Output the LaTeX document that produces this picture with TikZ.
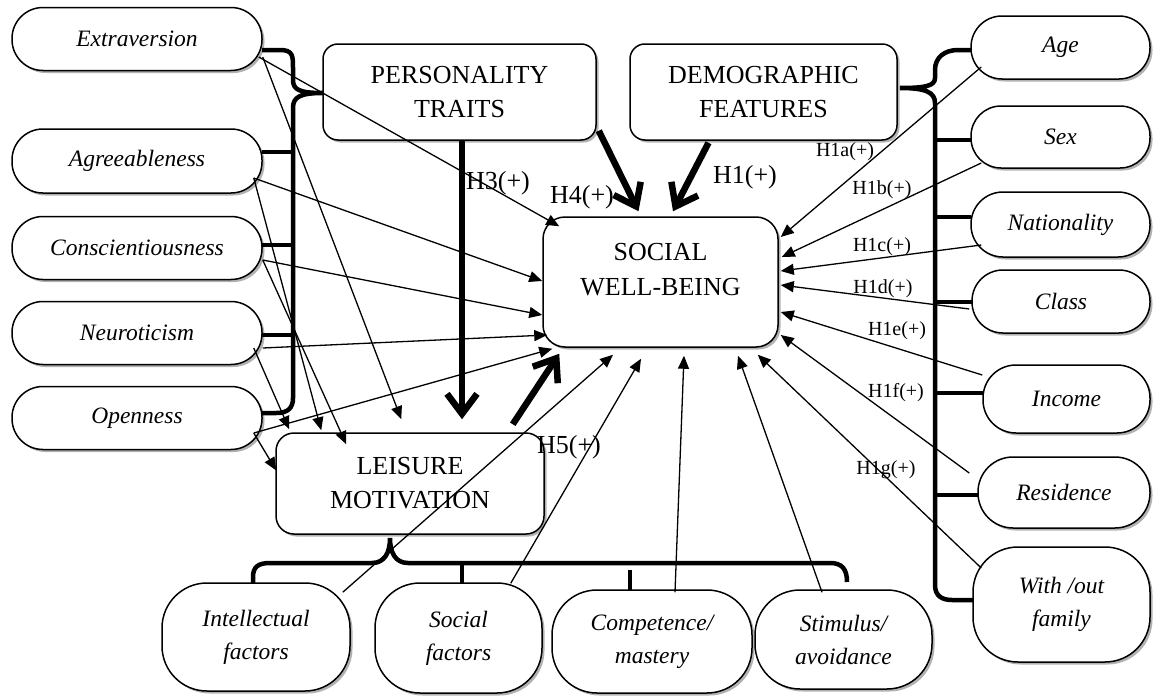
\documentclass[tikz,border=0pt]{standalone}
\usepackage{fontspec}
\setmainfont{Liberation Serif}
\usetikzlibrary{arrows.meta,shadows}
\begin{document}
\begin{tikzpicture}[x=1pt,y=-1pt,
  shad/.style={drop shadow={shadow xshift=2.5pt,shadow yshift=-2.5pt,opacity=0.3,fill=black}},
  box/.style={draw,line width=1.5pt,rounded corners=15pt,fill=white,shad,align=center,inner sep=0pt,font=\fontsize{26}{34}\selectfont},
  pill/.style={draw,line width=1.5pt,fill=white,shad,align=center,inner sep=0pt,font=\fontsize{23.5}{33}\selectfont\itshape},
  arr/.style={line width=1.3pt,-{Triangle[length=13pt,width=11pt]}},
  fat/.style={line width=6.5pt,-{Straight Barb[length=20pt,width=30pt]}},
  brc/.style={line width=4.5pt},
  lab/.style={inner sep=0pt,font=\fontsize{26}{30}\selectfont},
  slab/.style={inner sep=0pt,font=\fontsize{20}{24}\selectfont}]
\useasboundingbox (0,0) rectangle (1154,696);

% main boxes
\node[box,minimum width=273pt,minimum height=96pt] (pt) at (459.5,92) {PERSONALITY\\TRAITS};
\node[box,minimum width=267pt,minimum height=96pt] (df) at (763.5,92) {DEMOGRAPHIC\\FEATURES};
\node[box,minimum width=235pt,minimum height=130pt,rounded corners=22pt] (swb) at (660.5,282) {};
\node[lab,align=center,font=\fontsize{26}{35}\selectfont] (swbt) at (660.5,270) {SOCIAL\\WELL-BEING};
\node[box,minimum width=268pt,minimum height=101pt,rounded corners=18pt] (lm) at (410,483.5) {LEISURE\\MOTIVATION};

% left traits
\node[pill,minimum width=250pt,minimum height=63pt,rounded corners=31pt] (ext) at (137,39) {Extraversion};
\node[pill,minimum width=250pt,minimum height=64pt,rounded corners=31pt] (agr) at (137,161) {Agreeableness};
\node[pill,minimum width=250pt,minimum height=63pt,rounded corners=31pt] (con) at (137,248) {Conscientiousness};
\node[pill,minimum width=250pt,minimum height=63pt,rounded corners=31pt] (neu) at (137,333) {Neuroticism};
\node[pill,minimum width=250pt,minimum height=63pt,rounded corners=31pt] (ope) at (137,418) {Openness};

% right demographics
\node[pill,minimum width=179pt,minimum height=63pt,rounded corners=31pt] (age) at (1060.5,47.5) {Age};
\node[pill,minimum width=179pt,minimum height=62pt,rounded corners=30pt] (sex) at (1060.5,137) {Sex};
\node[pill,minimum width=179pt,minimum height=65pt,rounded corners=32pt] (nat) at (1060.5,224.5) {Nationality};
\node[pill,minimum width=178pt,minimum height=63pt,rounded corners=31pt] (cls) at (1061,301.5) {Class};
\node[pill,minimum width=167pt,minimum height=68pt,rounded corners=33pt] (inc) at (1066.5,399) {Income};
\node[pill,minimum width=172pt,minimum height=71pt,rounded corners=35pt] (res) at (1064,492.5) {Residence};
\node[pill,minimum width=177pt,minimum height=115pt,rounded corners=45pt] (fam) at (1061.5,604.5) {With /out\\family};

% bottom motivations
\node[pill,minimum width=188pt,minimum height=108pt,rounded corners=45pt] (int) at (256,637) {Intellectual\\factors};
\node[pill,minimum width=167pt,minimum height=110pt,rounded corners=45pt] (soc) at (458.5,638) {Social\\factors};
\node[pill,minimum width=200pt,minimum height=103pt,rounded corners=45pt] (com) at (652,641.5) {Competence/\\mastery};
\node[pill,minimum width=177pt,minimum height=99pt,rounded corners=45pt] (sti) at (843.5,639.5) {Stimulus/\\avoidance};

% braces
\draw[brc] (262,50) -- (280,50) .. controls (293,50) and (293,56) .. (293,68) -- (293,80)
  .. controls (293,90) and (300,93) .. (323,93)
  .. controls (300,93) and (293,97) .. (293,108) -- (293,398)
  .. controls (293,408) and (288,413) .. (276,413) -- (262,413);
\draw[brc] (262,152) -- (293,152);
\draw[brc] (262,245) -- (293,245);
\draw[brc] (262,335) -- (293,335);

\draw[brc] (971,50) -- (958,50) .. controls (945,50) and (935,57) .. (935,70) -- (935,78)
  .. controls (935,86) and (925,88) .. (900,88)
  .. controls (925,88) and (935,92) .. (935,103) -- (935,585)
  .. controls (935,596) and (942,600) .. (952,600) -- (973,600);
\draw[brc] (935,140) -- (971,140);
\draw[brc] (935,217) -- (971,217);
\draw[brc] (935,302) -- (972,302);
\draw[brc] (935,393) -- (983,393);
\draw[brc] (935,495) -- (978,495);

\draw[brc] (253,583) -- (253,577) .. controls (253,567) and (258,563) .. (270,563) -- (372,563)
  .. controls (385,563) and (390,552) .. (390,538)
  .. controls (390,552) and (395,563) .. (408,563) -- (830,563)
  .. controls (842,563) and (847,569) .. (847,582);
\draw[brc] (462,563) -- (462,583);
\draw[brc] (630,570) -- (630,590);

% thin arrows: traits -> well-being
\draw[arr] ([shift={(-4,18)}]ext.east) -- ([shift={(17,10)}]swb.north west);
\draw[arr] ([shift={(-9,17)}]agr.east) -- ([shift={(0,-1)}]swb.west);
\draw[arr] ([shift={(0,12)}]con.east) -- ([shift={(0,33)}]swb.west);
\draw[arr] ([shift={(0,15)}]neu.east) -- ([shift={(5,53)}]swb.west);
\draw[arr] ([shift={(-9,15)}]ope.east) -- ([shift={(10,1)}]swb.south west);

% thin arrows: traits -> leisure motivation
\draw[arr] ([shift={(0,18)}]ext.east) -- ([shift={(126,-13)}]lm.north west);
\draw[arr] ([shift={(-9,17)}]agr.east) -- ([shift={(46,-2)}]lm.north west);
\draw[arr] ([shift={(0,12)}]con.east) -- ([shift={(71,12)}]lm.north west);
\draw[arr] ([shift={(-9,15)}]neu.east) -- ([shift={(14,-3)}]lm.north west);
\draw[arr] ([shift={(-9,15)}]ope.east) -- ([shift={(1,-13)}]lm.west);

% thin arrows: demographics -> well-being
\draw[arr] ([shift={(11,19.5)}]age.west) -- ([shift={(2,-45)}]swb.east);
\draw[arr] ([shift={(11,26)}]sex.west) -- ([shift={(3,-25)}]swb.east);
\draw[arr] ([shift={(11,20.5)}]nat.west) -- ([shift={(2,-11)}]swb.east);
\draw[arr] ([shift={(-2,7.5)}]cls.west) -- ([shift={(2,3)}]swb.east);
\draw[arr] ([shift={(0,-24)}]inc.west) -- ([shift={(2,30)}]swb.east);
\draw[arr] ([shift={(-8,-19.5)}]res.west) -- ([shift={(2,53)}]swb.east);
\draw[arr] ([shift={(9,-36.5)}]fam.west) -- ([shift={(-21,7)}]swb.south east);

% thin arrows: motivations -> well-being
\draw[arr] ([shift={(-8,10)}]int.north east) -- ([shift={(-47.5,7)}]swb.south);
\draw[arr] ([shift={(-32,1)}]soc.north east) -- ([shift={(-19.5,11)}]swb.south);
\draw[arr] ([shift={(23,3)}]com.north) -- ([shift={(23.5,8)}]swb.south);
\draw[arr] ([shift={(-21.5,3)}]sti.north) -- ([shift={(77.5,8)}]swb.south);

% thick arrows
\draw[fat] ([shift={(2.5,0)}]pt.south) -- ([shift={(52,-13)}]lm.north);
\draw[fat] ([shift={(2,-10)}]pt.south east) -- ([shift={(-22,-5)}]swb.north);
\draw[fat] ([shift={(-55,2)}]df.south) -- ([shift={(12.5,-5)}]swb.north);
\draw[fat] ([shift={(-32,-8)}]lm.north east) -- ([shift={(17,6)}]swb.south west);

% labels
\node[lab] (h3) at (498,183) {H3(+)};
\node[lab] (h4) at (582,197) {H4(+)};
\node[lab] (h1) at (745,177) {H1(+)};
\node[lab] (h5) at (569,447) {H5(+)};
\node[slab] (h1a) at (845,152) {H1a(+)};
\node[slab] (h1b) at (882,190) {H1b(+)};
\node[slab] (h1c) at (882,247) {H1c(+)};
\node[slab] (h1d) at (883,289) {H1d(+)};
\node[slab] (h1e) at (897,331) {H1e(+)};
\node[slab] (h1f) at (896,393) {H1f(+)};
\node[slab] (h1g) at (886,470) {H1g(+)};
\end{tikzpicture}
\end{document}
